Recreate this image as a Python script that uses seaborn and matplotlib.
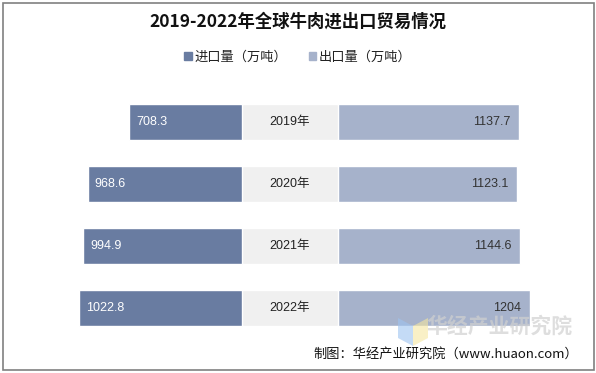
import matplotlib
matplotlib.use("Agg")
import matplotlib.pyplot as plt
import matplotlib.patches as mpatches
import seaborn as sns
import pandas as pd

sns.set_style("white")
plt.rcParams['font.family'] = ['Noto Sans CJK SC', 'DejaVu Sans']

# 数据
years = ["2019年", "2020年", "2021年", "2022年"]
imports = [708.3, 968.6, 994.9, 1022.8]
exports = [1137.7, 1123.1, 1144.6, 1204]
import_label = "进口量（万吨）"
export_label = "出口量（万吨）"
title = "2019-2022年全球牛肉进出口贸易情况"
source = "制图：华经产业研究院（www.huaon.com）"

c_imp = "#697CA1"
c_exp = "#A6B2CB"
c_mid = "#F0F0F0"
num_font = ["Liberation Sans", "Noto Sans CJK SC"]

df = pd.DataFrame({"year": years, "imp": imports, "exp": exports, "mid": [1] * len(years)})

W, H = 596, 373
fig = plt.figure(figsize=(W / 100, H / 100), dpi=100)

scale = 0.1594  # px per unit
top_px, bot_px = 91, 338.7
y0 = 1 - bot_px / H
hh = (bot_px - top_px) / H
bw = 36 / 61.8


def px_axes(x0, x1):
    return fig.add_axes([x0 / W, y0, (x1 - x0) / W, hh])


# 水印 (画在柱子下面)
fig.patches.append(mpatches.Polygon([(398 / W, 1 - 318 / H), (413 / W, 1 - 326 / H),
                                     (413 / W, 1 - 346 / H), (398 / W, 1 - 338 / H)],
                                    closed=True, transform=fig.transFigure,
                                    facecolor="#9EC3F0", alpha=0.6, edgecolor="none"))
fig.patches.append(mpatches.Polygon([(413 / W, 1 - 326 / H), (428 / W, 1 - 318 / H),
                                     (428 / W, 1 - 338 / H), (413 / W, 1 - 346 / H)],
                                    closed=True, transform=fig.transFigure,
                                    facecolor="#F5E6A0", alpha=0.6, edgecolor="none"))
fig.text(499 / W, 1 - 326 / H, "华经产业研究院", ha="center", va="center", fontsize=15,
         fontweight="bold", color="#D0D0D0", alpha=0.7)

ax_l = px_axes(10, 242)
ax_m = px_axes(242, 338)
ax_r = px_axes(338, 586)

sns.barplot(data=df, x="imp", y="year", ax=ax_l, color=c_imp, width=bw, saturation=1, orient="h")
sns.barplot(data=df, x="mid", y="year", ax=ax_m, color=c_mid, width=bw, saturation=1, orient="h")
sns.barplot(data=df, x="exp", y="year", ax=ax_r, color=c_exp, width=bw, saturation=1, orient="h")

ax_l.set_xlim(232 / scale, 0)
ax_m.set_xlim(0, 1)
ax_r.set_xlim(0, 248 / scale)

for ax in (ax_l, ax_m, ax_r):
    ax.set_ylim(3.5, -0.5)
    ax.set_xlabel("")
    ax.set_ylabel("")
    ax.set_xticks([])
    ax.set_yticks([])
    for s in ax.spines.values():
        s.set_visible(False)
    ax.patch.set_alpha(0)

for i, (yr, a, b) in enumerate(zip(years, imports, exports)):
    ax_l.text(a - 7 / scale, i, f"{a:.1f}", ha="left", va="center", color="white",
              fontsize=9, family=num_font)
    ax_m.text(0.5, i, yr, ha="center", va="center", color="#222222", fontsize=9,
              family=num_font)
    ax_r.text(b - 9 / scale, i, f"{b:g}", ha="right", va="center", color="#333333",
              fontsize=9, family=num_font)

fig.text(0.5, 1 - 22 / H, title, ha="center", va="center", fontsize=12.5,
         fontweight="bold", color="#111111")

handles = [mpatches.Patch(color=c_imp, label=import_label),
           mpatches.Patch(color=c_exp, label=export_label)]
fig.legend(handles=handles, loc="center", bbox_to_anchor=(0.5, 1 - 57 / H), ncol=2,
           frameon=False, fontsize=9.5, handlelength=0.6, handleheight=0.6,
           handletextpad=0.2, columnspacing=1.6, labelcolor="#222222")

fig.text(578 / W, 1 - 354 / H, source, ha="right", va="center", fontsize=9.5, color="#111111")

fig.patches.append(mpatches.Rectangle((3 / W, 3 / H), 591 / W, 367 / H, transform=fig.transFigure,
                                      fill=False, edgecolor="#808080", linewidth=1.2))

fig.savefig("out.png", dpi=100)
